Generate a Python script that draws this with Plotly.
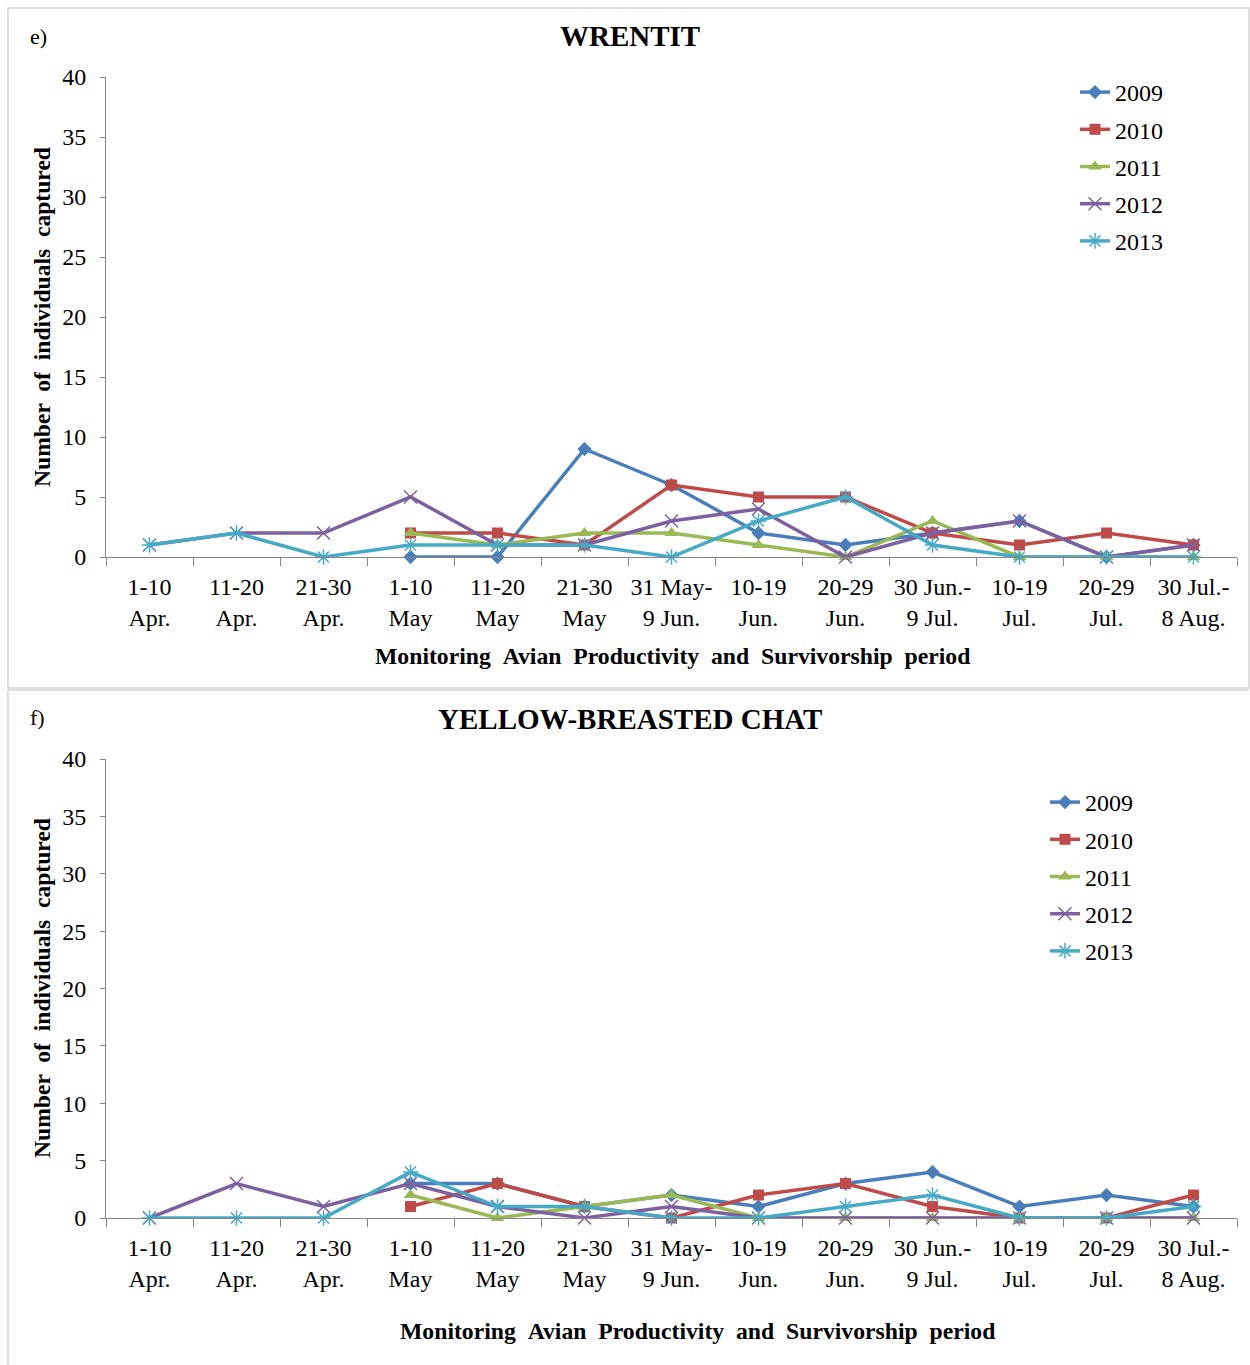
import plotly.graph_objects as go

# MAPS sampling periods
periods = ["1-10<br>Apr.", "11-20<br>Apr.", "21-30<br>Apr.", "1-10<br>May", "11-20<br>May",
           "21-30<br>May", "31 May-<br>9 Jun.", "10-19<br>Jun.", "20-29<br>Jun.",
           "30 Jun.-<br>9 Jul.", "10-19<br>Jul.", "20-29<br>Jul.", "30 Jul.-<br>8 Aug."]
years = ["2009", "2010", "2011", "2012", "2013"]

# Wrentit captures per period
wrentit_2009 = [None, None, None, 0, 0, 9, 6, 2, 1, 2, 3, 0, 1]
wrentit_2010 = [None, None, None, 2, 2, 1, 6, 5, 5, 2, 1, 2, 1]
wrentit_2011 = [None, None, None, 2, 1, 2, 2, 1, 0, 3, 0, 0, 0]
wrentit_2012 = [1, 2, 2, 5, 1, 1, 3, 4, 0, 2, 3, 0, 1]
wrentit_2013 = [1, 2, 0, 1, 1, 1, 0, 3, 5, 1, 0, 0, 0]

# Yellow-breasted chat captures per period
chat_2009 = [None, None, None, 3, 3, 1, 2, 1, 3, 4, 1, 2, 1]
chat_2010 = [None, None, None, 1, 3, 1, 0, 2, 3, 1, 0, 0, 2]
chat_2011 = [None, None, None, 2, 0, 1, 2, 0, 0, 0, 0, 0, 0]
chat_2012 = [0, 3, 1, 3, 1, 0, 1, 0, 0, 0, 0, 0, 0]
chat_2013 = [0, 0, 0, 4, 1, 1, 0, 0, 1, 2, 0, 0, 1]

colors = ["#4A7EBB", "#BE4B48", "#98B954", "#7D60A0", "#46AAC5"]
symbols = ["diamond", "square", "triangle-up", "x-thin-open", "asterisk-open"]
sizes = [11, 11, 12, 13, 13]

W, H = 1250, 1365
SERIF = "Liberation Serif, Times New Roman, serif"


def px(x):
    return x / W


def py(y):
    return 1 - y / H


fig = go.Figure()

panels = [
    dict(series=[wrentit_2009, wrentit_2010, wrentit_2011, wrentit_2012, wrentit_2013],
         xa="x", ya="y", legend="legend"),
    dict(series=[chat_2009, chat_2010, chat_2011, chat_2012, chat_2013],
         xa="x2", ya="y2", legend="legend2"),
]

for p_i, panel in enumerate(panels):
    for i, (yr, vals) in enumerate(zip(years, panel["series"])):
        sym = symbols[i]
        open_sym = sym.endswith("open")
        fig.add_trace(go.Scatter(
            x=periods, y=vals, name=yr, mode="lines+markers",
            xaxis=panel["xa"], yaxis=panel["ya"], legend=panel["legend"],
            legendgroup=f"{p_i}-{yr}",
            line=dict(color=colors[i], width=3.5),
            marker=dict(symbol=sym, size=sizes[i], color=colors[i],
                        line=dict(color=colors[i], width=1.5 if open_sym else 0)),
            cliponaxis=False, connectgaps=False,
        ))

axis_font = dict(family=SERIF, size=24, color="#000000")

xaxis_common = dict(
    type="category", categoryorder="array", categoryarray=periods,
    tickson="boundaries", ticks="outside", ticklen=8, tickcolor="#868686",
    showline=True, linecolor="#868686", linewidth=1, showgrid=False,
    zeroline=False, tickfont=axis_font, ticklabelstandoff=8, tickangle=0,
    automargin=False, range=[-0.5, 12.5],
)
yaxis_common = dict(
    range=[0, 40], dtick=5, tick0=0, ticks="outside", ticklen=5,
    tickcolor="#868686", showline=True, linecolor="#868686", linewidth=1,
    showgrid=False, zeroline=False, tickfont=axis_font, ticklabelstandoff=9,
    automargin=False,
)

fig.update_layout(
    width=W, height=H,
    margin=dict(l=0, r=0, t=0, b=0, autoexpand=False),
    paper_bgcolor="white", plot_bgcolor="white",
    font=dict(family=SERIF, color="#000000"),
    xaxis=dict(domain=[px(106), px(1237)], anchor="y", **xaxis_common),
    yaxis=dict(domain=[py(557), py(77)], anchor="x", **yaxis_common),
    xaxis2=dict(domain=[px(106), px(1237)], anchor="y2", **xaxis_common),
    yaxis2=dict(domain=[py(1218), py(759)], anchor="x2", **yaxis_common),
    legend=dict(x=px(1075), y=py(70), xanchor="left", yanchor="top",
                font=dict(family=SERIF, size=24, color="#000000"),
                tracegroupgap=3, bgcolor="rgba(0,0,0,0)"),
    legend2=dict(x=px(1045), y=py(780), xanchor="left", yanchor="top",
                 font=dict(family=SERIF, size=24, color="#000000"),
                 tracegroupgap=3, bgcolor="rgba(0,0,0,0)"),
    showlegend=True,
)

gap = " \u00a0"
xtitle = gap.join(["Monitoring", "Avian", "Productivity", "and", "Survivorship", "period"])
ytitle = gap.join(["Number", "of", "individuals", "captured"])

annotations = [
    dict(text="e)", x=px(38), y=py(36)),
    dict(text="f)", x=px(37), y=py(717)),
    dict(text="<b>WRENTIT</b>", x=px(630), y=py(36), size=29),
    dict(text="<b>YELLOW-BREASTED CHAT</b>", x=px(630), y=py(719), size=29),
    dict(text=f"<b>{xtitle}</b>", x=px(672), y=py(656), size=23.7),
    dict(text=f"<b>{xtitle}</b>", x=px(697), y=py(1331), size=23.7),
    dict(text=f"<b>{ytitle}</b>", x=px(42), y=py(317), size=23.6, angle=-90),
    dict(text=f"<b>{ytitle}</b>", x=px(42), y=py(988), size=23.6, angle=-90),
]
for a in annotations:
    fig.add_annotation(
        text=a["text"], x=a["x"], y=a["y"], xref="paper", yref="paper",
        xanchor="center", yanchor="middle", showarrow=False,
        textangle=a.get("angle", 0),
        font=dict(family=SERIF, size=a.get("size", 22), color="#000000"),
    )

# panel frames
border = dict(color="#D4D4D4", width=1.5)
fig.add_shape(type="rect", xref="paper", yref="paper",
              x0=px(8), x1=px(1249), y0=py(688), y1=py(8), line=border)
fig.add_shape(type="line", xref="paper", yref="paper",
              x0=px(8), x1=px(1249), y0=py(690), y1=py(690), line=border)
fig.add_shape(type="line", xref="paper", yref="paper",
              x0=px(8), x1=px(8), y0=py(690), y1=py(1365), line=border)

fig.write_html("out.html")
